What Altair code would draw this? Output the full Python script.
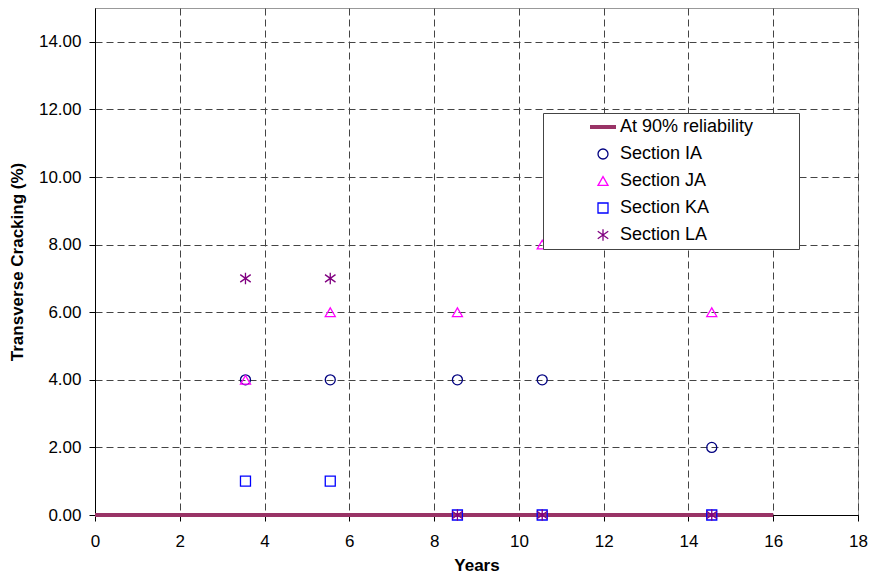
import altair as alt
import pandas as pd

# ---- data ----
years = [3.55, 5.55, 8.55, 10.55, 14.55]
section_ia = [4, 4, 4, 4, 2]
section_ja = [4, 6, 6, 8, 6]
section_ka = [1, 1, 0, 0, 0]
section_la = [7, 7, 0, 0, 0]
reliability_years = [0, 16]
reliability_values = [0, 0]

series_names = ["At 90% reliability", "Section IA", "Section JA", "Section KA", "Section LA"]
series_colors = ["#993366", "#000080", "#FF00FF", "#0000FF", "#800080"]
asterisk = "M0,-1.15L0,1.15M-1.05,-0.75L1.05,0.75M-1.05,0.75L1.05,-0.75"
# legend line sample; the trailing move-to only widens the legend box
long_stroke = "M-2.6,0L2.6,0M36.6,0"
series_shapes = [long_stroke, "circle", "triangle-up", "square", asterisk]

x_ticks = [0, 2, 4, 6, 8, 10, 12, 14, 16, 18]
y_ticks = [0, 2, 4, 6, 8, 10, 12, 14]

rows = []
for name, vals in zip(series_names[1:], [section_ia, section_ja, section_ka, section_la]):
    for x, y in zip(years, vals):
        rows.append({"Years": x, "Cracking": y, "Series": name})
points_df = pd.DataFrame(rows)
line_df = pd.DataFrame({"Years": reliability_years, "Cracking": reliability_values})

FONT = "Liberation Sans"

x_enc = alt.X(
    "Years:Q",
    scale=alt.Scale(domain=[0, 18], nice=False, zero=False),
    axis=alt.Axis(
        values=x_ticks, format="d", title="Years",
        grid=True, gridDash=[7, 4], gridColor="#444", gridWidth=1,
        domainColor="black", domainWidth=1, ticks=True, tickColor="black", tickSize=6,
        labelFont=FONT, labelFontSize=17, labelColor="black", labelPadding=12,
        labelFlush=False,
        titleFont=FONT, titleFontSize=17, titleFontWeight="bold", titleColor="black",
        titlePadding=8,
    ),
)
y_enc = alt.Y(
    "Cracking:Q",
    scale=alt.Scale(domain=[0, 15], nice=False),
    axis=alt.Axis(
        values=y_ticks, format=".2f", title="Transverse Cracking (%)",
        grid=True, gridDash=[7, 4], gridColor="#444", gridWidth=1,
        domainColor="black", domainWidth=1, tickColor="black", tickSize=6,
        labelFont=FONT, labelFontSize=17, labelColor="black", labelPadding=8,
        titleFont=FONT, titleFontSize=17, titleFontWeight="bold", titleColor="black",
        titlePadding=12,
    ),
)

line = alt.Chart(line_df).mark_line(color="#993366", strokeWidth=4).encode(
    x=x_enc, y=y_enc
)

legend = alt.Legend(
    title=None,
    orient="none", legendX=448, legendY=105,
    fillColor="white", strokeColor="#444", padding=5,
    labelFont=FONT, labelFontSize=18, labelColor="black", labelLimit=400,
    symbolSize=100,
    symbolStrokeWidth={"expr": "datum.value === 'At 90% reliability' ? 4 : 1.3"},
    rowPadding=9,
    symbolOffset=46, labelOffset=8,
)

points = alt.Chart(points_df).mark_point(filled=False, size=100, strokeWidth=1.3, opacity=1).encode(
    x=x_enc,
    y=y_enc,
    color=alt.Color("Series:N", scale=alt.Scale(domain=series_names, range=series_colors), legend=legend),
    shape=alt.Shape("Series:N", scale=alt.Scale(domain=series_names, range=series_shapes), legend=legend),
)

chart = (
    alt.layer(line, points)
    .properties(
        width=763, height=507,
        autosize=alt.AutoSizeParams(type="none"),
        padding={"left": 87, "top": 0, "right": 10, "bottom": 60},
        background="white",
    )
    .configure_view(stroke="#999", strokeWidth=1)
)

chart.save("out.html", embed_options={"renderer": "svg", "actions": False})
